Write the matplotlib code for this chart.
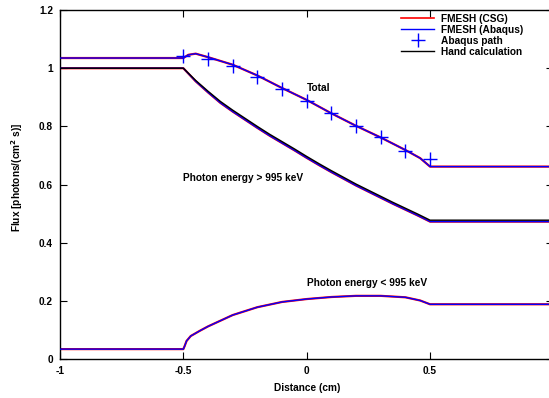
import matplotlib
matplotlib.use("Agg")
import matplotlib.pyplot as plt
from matplotlib.ticker import FuncFormatter

plt.rcParams["font.family"] = ["Liberation Sans", "DejaVu Sans"]
plt.rcParams["font.size"] = 7.3
plt.rcParams["font.weight"] = "bold"
plt.rcParams["axes.labelweight"] = "bold"
plt.rcParams["mathtext.default"] = "bf"

# high energy (> 995 keV) flux, FMESH (CSG and Abaqus) and hand calculation
x_high = [-1.0, -0.5, -0.45, -0.4, -0.35, -0.3, -0.25, -0.2, -0.15, -0.1, -0.05, 0.0,
          0.05, 0.1, 0.15, 0.2, 0.25, 0.3, 0.35, 0.4, 0.45, 0.5, 1.0]
high_fmesh = [1.0, 1.0, 0.955, 0.917, 0.881, 0.851, 0.823, 0.795, 0.768, 0.743, 0.718, 0.692,
              0.667, 0.643, 0.620, 0.597, 0.576, 0.555, 0.534, 0.514, 0.494, 0.473, 0.473]
high_hand = [1.0, 1.0, 0.958, 0.921, 0.886, 0.856, 0.828, 0.800, 0.773, 0.748, 0.723, 0.697,
             0.672, 0.648, 0.625, 0.602, 0.581, 0.560, 0.539, 0.519, 0.499, 0.478, 0.478]

# low energy (< 995 keV) flux
x_low = [-1.0, -0.5, -0.495, -0.487, -0.47, -0.433, -0.4, -0.3, -0.2, -0.1, 0.0,
         0.1, 0.2, 0.3, 0.4, 0.46, 0.5, 1.0]
low_fmesh = [0.035, 0.035, 0.045, 0.063, 0.080, 0.098, 0.113, 0.152, 0.179, 0.197, 0.207,
             0.214, 0.218, 0.218, 0.213, 0.202, 0.189, 0.189]

# total flux
x_total = [-1.0, -0.5, -0.48, -0.45, -0.4, -0.3, -0.2, -0.1, 0.0, 0.1, 0.2, 0.3, 0.4, 0.46, 0.5, 1.0]
total_fmesh = [1.035, 1.035, 1.046, 1.050, 1.038, 1.012, 0.975, 0.932, 0.891, 0.845,
               0.802, 0.762, 0.719, 0.691, 0.662, 0.662]

# Abaqus path samples
x_path = [-0.5, -0.4, -0.3, -0.2, -0.1, 0.0, 0.1, 0.2, 0.3, 0.4, 0.5]
total_path = [1.043, 1.031, 1.008, 0.971, 0.929, 0.888, 0.846, 0.803, 0.762, 0.717, 0.689]

fig = plt.figure(figsize=(5.49, 3.98), dpi=100)
ax = fig.add_axes([60 / 549, 38.7 / 398, 493.4 / 549, 349.3 / 398])

red = "#ff0000"
blue = "#0000ff"
curves = [(x_total, total_fmesh), (x_high, high_fmesh), (x_low, low_fmesh)]

for xs, ys in curves:
    ax.plot(xs, ys, color=red, lw=1.6, zorder=2)
ax.plot([], [], color=red, lw=1.2, label="FMESH (CSG)")
for i, (xs, ys) in enumerate(curves):
    ax.plot(xs, ys, color=blue, lw=1.0, zorder=3,
            label="FMESH (Abaqus)" if i == 0 else None)
ax.plot(x_path, total_path, ls="none", marker="+", ms=10, mew=1.0, color=blue,
        zorder=4, label="Abaqus path")
ax.plot(x_high, high_hand, color="black", lw=1.0, zorder=3.5, label="Hand calculation")

ax.text(0.0, 0.933, "Total", ha="left", va="center")
ax.text(-0.5, 0.622, "Photon energy > 995 keV", ha="left", va="center")
ax.text(0.0, 0.262, "Photon energy < 995 keV", ha="left", va="center")

ax.set_xlim(-1, 1)
ax.set_ylim(0, 1.2)
ax.set_xticks([-1, -0.5, 0, 0.5])
ax.set_yticks([0, 0.2, 0.4, 0.6, 0.8, 1.0, 1.2])
fmt = FuncFormatter(lambda v, p: ("%g" % round(v, 3)))
ax.xaxis.set_major_formatter(fmt)
ax.yaxis.set_major_formatter(fmt)
ax.tick_params(direction="in", length=5, width=0.8, top=True, right=True, pad=5)
for s in ax.spines.values():
    s.set_linewidth(1.0)

ax.set_xlabel("Distance (cm)")
ax.set_ylabel("Flux [photons/(cm$^2$ s)]")
ax.xaxis.set_label_coords(0.5, -0.069)
ax.yaxis.set_label_coords(-0.071, 0.52)

ax.legend(loc="upper left", bbox_to_anchor=(401 / 549, 1 - 14 / 398),
          bbox_transform=fig.transFigure, frameon=False, borderpad=0,
          handlelength=3.3, handletextpad=0.6, labelspacing=0.1, numpoints=1,
          borderaxespad=0)

fig.savefig("out.png", dpi=100)
